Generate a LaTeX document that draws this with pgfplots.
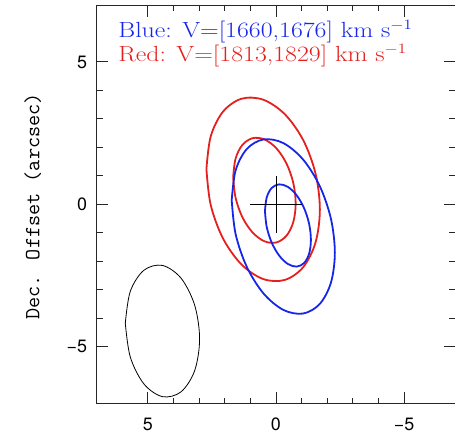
\documentclass[border=0pt]{standalone}
\usepackage{fontspec}
\usepackage{graphicx}
\newfontfamily\ticksf{TeX Gyre Heros}
\usepackage{pgfplots}
\pgfplotsset{compat=1.18}
\definecolor{cred}{RGB}{228,32,30}
\definecolor{cblue}{RGB}{22,38,232}
\tikzset{leg/.style={anchor=base west, font=\fontsize{22}{24}\selectfont, inner sep=0pt}}
\begin{document}
\begin{tikzpicture}
\begin{axis}[name=ax,
  scale only axis, width=359bp, height=399bp,
  xmin=-7, xmax=7, ymin=-7, ymax=7, x dir=reverse,
  xtick={-5,0,5}, xticklabels={−5,0,5},
  ytick={-5,0,5}, yticklabels={−5,0,5},
  minor tick num=4,
  tick align=inside,
  major tick length=11.7bp, minor tick length=6bp,
  axis line style={line width=0.9pt, black!85},
  every tick/.style={black!85, line width=0.9pt},
  tick label style={font=\ticksf\fontsize{18}{20}\selectfont},
  xticklabel style={yshift=-11bp},
  yticklabel style={xshift=-6bp},
  ylabel={Dec. Offset (arcsec)},
  ylabel style={font=\ttfamily\fontsize{21.7}{24}\selectfont, at={(axis description cs:-0.178,0.495)}, anchor=center},
  clip=false,
]
% beam
\addplot[black, line width=0.8pt, smooth, tension=0.55] coordinates {
(5.880,-4.172) (5.686,-3.057) (5.155,-2.316) (4.430,-2.146) (3.705,-2.594) (3.174,-3.539)
(2.980,-4.728) (3.174,-5.843) (3.705,-6.584) (4.430,-6.754) (5.155,-6.306) (5.686,-5.361) (5.880,-4.172)};
% outer red
\addplot[cred, line width=1.8pt, smooth, tension=0.55] coordinates {
(2.714,1.236) (2.546,2.387) (2.066,3.255) (1.347,3.707) (0.500,3.675) (-0.347,3.163)
(-1.066,2.251) (-1.546,1.075) (-1.714,-0.184) (-1.546,-1.335) (-1.066,-2.203) (-0.347,-2.655)
(0.500,-2.623) (1.347,-2.111) (2.066,-1.199) (2.546,-0.023) (2.714,1.236)};
% inner red
\addplot[cred, line width=1.8pt, smooth, tension=0.55] coordinates {
(1.670,0.953) (1.577,1.603) (1.313,2.083) (0.917,2.321) (0.450,2.280) (-0.017,1.967)
(-0.413,1.429) (-0.677,0.749) (-0.770,0.029) (-0.677,-0.621) (-0.413,-1.101) (-0.017,-1.339)
(0.450,-1.298) (0.917,-0.985) (1.313,-0.447) (1.577,0.233) (1.670,0.953)};
% outer blue
\addplot[cblue, line width=1.8pt, smooth, tension=0.55] coordinates {
(1.727,0.143) (1.574,1.194) (1.137,1.944) (0.484,2.280) (-0.286,2.151) (-1.056,1.576)
(-1.709,0.642) (-2.146,-0.508) (-2.299,-1.699) (-2.146,-2.750) (-1.709,-3.500) (-1.056,-3.836)
(-0.286,-3.707) (0.484,-3.132) (1.137,-2.198) (1.574,-1.048) (1.727,0.143)};
% inner blue
\addplot[cblue, line width=1.8pt, smooth, tension=0.55] coordinates {
(0.429,-0.237) (0.361,0.243) (0.167,0.573) (-0.125,0.702) (-0.468,0.611) (-0.811,0.314)
(-1.102,-0.144) (-1.296,-0.692) (-1.364,-1.249) (-1.296,-1.728) (-1.102,-2.058) (-0.811,-2.187)
(-0.468,-2.096) (-0.125,-1.799) (0.167,-1.342) (0.361,-0.794) (0.429,-0.237)};
% cross
\addplot[black, line width=0.9pt] coordinates {(1,0) (-1,0)};
\addplot[black, line width=0.9pt] coordinates {(0,1) (0,-1)};
% legend text
\node[leg, text=cblue] at (axis description cs:0.0601,0.9185) {\scalebox{1.18}[1]{Blue: V=[1660,1676] km s$^{-1}$}};
\node[leg, text=cred] at (axis description cs:0.0601,0.8584) {\scalebox{1.18}[1]{Red: V=[1813,1829] km s$^{-1}$}};
\end{axis}
\pgfresetboundingbox
\path ([xshift=-96.7bp,yshift=-34bp]ax.south west) rectangle ([xshift=-0.3bp,yshift=5bp]ax.north east);
\end{tikzpicture}
\end{document}
